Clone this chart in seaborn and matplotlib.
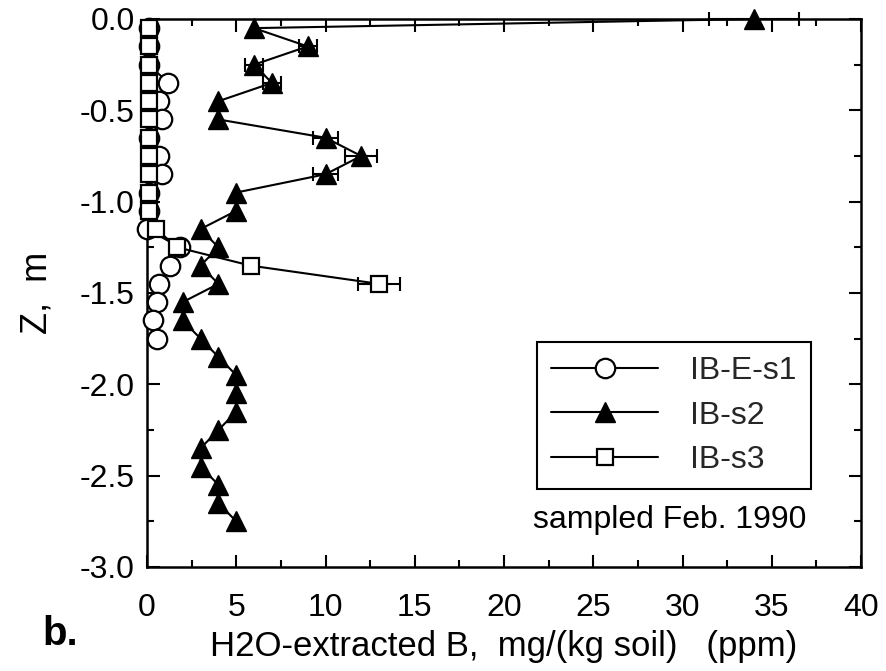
import matplotlib
matplotlib.use("Agg")
import matplotlib.pyplot as plt
import seaborn as sns
from matplotlib.ticker import MultipleLocator, FormatStrFormatter

# ---------------- data ----------------
depth_s1 = [-0.05, -0.15, -0.25, -0.35, -0.45, -0.55, -0.65, -0.75, -0.85,
            -0.95, -1.05, -1.15, -1.25, -1.35, -1.45, -1.55, -1.65, -1.75]
ib_e_s1 = [0.1, 0.1, 0.1, 1.2, 0.7, 0.85, 0.1, 0.7, 0.85,
           0.1, 0.1, 0.0, 1.85, 1.3, 0.7, 0.55, 0.35, 0.55]

depth_s2 = [0.0, -0.05, -0.15, -0.25, -0.35, -0.45, -0.55, -0.65, -0.75, -0.85,
            -0.95, -1.05, -1.15, -1.25, -1.35, -1.45, -1.55, -1.65, -1.75,
            -1.85, -1.95, -2.05, -2.15, -2.25, -2.35, -2.45, -2.55, -2.65, -2.75]
ib_s2 = [34, 6, 9, 6, 7, 4, 4, 10, 12, 10,
         5, 5, 3, 4, 3, 4, 2, 2, 3,
         4, 5, 5, 5, 4, 3, 3, 4, 4, 5]
ib_s2_err = [2.5, 0, 0.5, 0.5, 0.5, 0, 0, 0.7, 0.9, 0.7,
             0, 0, 0, 0, 0, 0, 0, 0, 0,
             0, 0, 0, 0, 0, 0, 0, 0, 0, 0]

depth_s3 = [-0.05, -0.15, -0.25, -0.35, -0.45, -0.55, -0.65, -0.75, -0.85,
            -0.95, -1.05, -1.15, -1.25, -1.35, -1.45]
ib_s3 = [0.1, 0.1, 0.1, 0.1, 0.1, 0.1, 0.1, 0.1, 0.1,
         0.1, 0.1, 0.5, 1.7, 5.8, 13.0]
ib_s3_err = [0, 0, 0, 0, 0, 0, 0, 0, 0,
             0, 0, 0, 0, 0, 1.2]

labels = ["IB-E-s1", "IB-s2", "IB-s3"]
x_ticks = [0, 5, 10, 15, 20, 25, 30, 35, 40]
y_ticks = [-3.0, -2.5, -2.0, -1.5, -1.0, -0.5, 0.0]

# ---------------- style ----------------
sns.set_theme(style="ticks")
plt.rcParams['font.family'] = ['Liberation Sans', 'DejaVu Sans']
plt.rcParams['axes.unicode_minus'] = False

fig = plt.figure(figsize=(8.86, 6.71), dpi=100)
ax = fig.add_axes([147 / 886, 1 - 567 / 671, 714 / 886, 548 / 671])

lw = 1.5
common = dict(color="black", linewidth=lw, sort=False, orient="y",
              estimator=None, errorbar=None, ax=ax, clip_on=False, zorder=4)

sns.lineplot(x=ib_e_s1, y=depth_s1, marker="o", markersize=14,
             markerfacecolor="white", markeredgecolor="black",
             markeredgewidth=1.6, label=labels[0], **common)
sns.lineplot(x=ib_s2, y=depth_s2, marker="^", markersize=14,
             markerfacecolor="black", markeredgecolor="black",
             markeredgewidth=1.0, label=labels[1], **common)
sns.lineplot(x=ib_s3, y=depth_s3, marker="s", markersize=12,
             markerfacecolor="white", markeredgecolor="black",
             markeredgewidth=1.6, label=labels[2], **common)

# error bars
ax.errorbar(ib_s2, depth_s2, xerr=ib_s2_err, fmt="none", ecolor="black",
            elinewidth=1.5, capsize=5, capthick=1.5, clip_on=False, zorder=3)
ax.errorbar(ib_s3, depth_s3, xerr=ib_s3_err, fmt="none", ecolor="black",
            elinewidth=1.5, capsize=5, capthick=1.5, clip_on=False, zorder=3)

ax.set_xlim(0, 40)
ax.set_ylim(-3.0, 0.0)
ax.set_xticks(x_ticks)
ax.set_yticks(y_ticks)
ax.xaxis.set_minor_locator(MultipleLocator(2.5))
ax.yaxis.set_minor_locator(MultipleLocator(0.25))
ax.yaxis.set_major_formatter(FormatStrFormatter("%.1f"))

ax.tick_params(which="both", direction="in", top=True, right=True,
               colors="black", labelsize=23, width=1.5)
ax.tick_params(which="major", length=9)
ax.tick_params(which="minor", length=5)
ax.tick_params(axis="x", which="major", pad=19)
ax.tick_params(axis="y", which="major", pad=9)

for sp in ax.spines.values():
    sp.set_linewidth(1.8)
    sp.set_color("black")
    sp.set_zorder(2.5)

ax.set_xlabel("H2O-extracted B,  mg/(kg soil)   (ppm)", fontsize=25,
              color="black", labelpad=5)
ax.set_ylabel("Z,  m", fontsize=26, color="black", labelpad=18)

leg = ax.legend(loc="upper left", bbox_to_anchor=(0.546, 0.411),
                fontsize=23, frameon=True, fancybox=False, edgecolor="black",
                handlelength=3.35, handletextpad=1.0, labelspacing=0.45,
                borderpad=0.45, borderaxespad=0)
leg.get_frame().set_linewidth(1.5)
leg.get_frame().set_alpha(1)

ax.text(0.732, 0.086, "sampled Feb. 1990", transform=ax.transAxes,
        ha="center", va="center", fontsize=23, color="black")

fig.text(60 / 886, 1 - 634 / 671, "b.", ha="center", va="center",
         fontsize=29, fontweight="bold", color="black")

fig.savefig("out.png", dpi=100, facecolor="white")
